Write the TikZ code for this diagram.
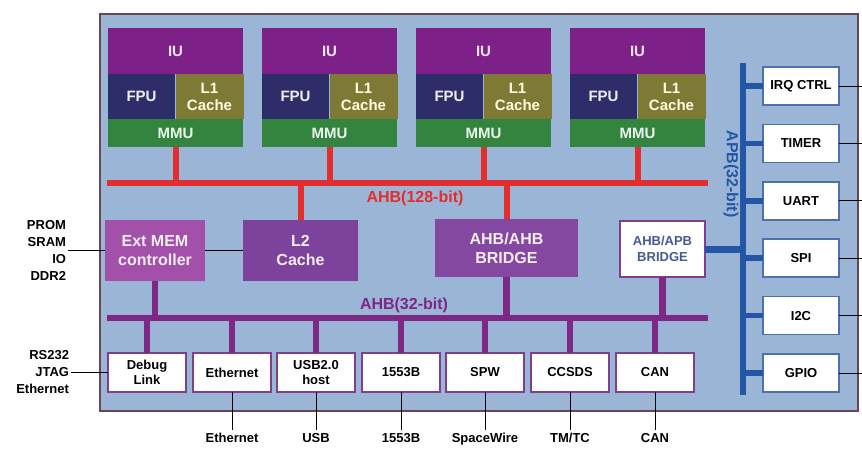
\documentclass[tikz,border=0pt]{standalone}
\usepackage{fontspec}
\setmainfont{Liberation Sans}
\usepackage{tikz}
\usetikzlibrary{calc}
\definecolor{boardc}{RGB}{155,181,215}
\definecolor{boardln}{RGB}{105,70,85}
\definecolor{iuc}{RGB}{125,32,135}
\definecolor{fpuc}{RGB}{45,46,105}
\definecolor{lonec}{RGB}{126,121,52}
\definecolor{mmuc}{RGB}{50,132,62}
\definecolor{extc}{RGB}{163,80,170}
\definecolor{ltwoc}{RGB}{125,66,155}
\definecolor{bridgec}{RGB}{132,72,160}
\definecolor{hbred}{RGB}{226,46,46}
\definecolor{lbpurp}{RGB}{125,40,132}
\definecolor{apbblue}{RGB}{36,86,166}
\definecolor{ioedge}{RGB}{128,62,142}
\definecolor{pedge}{RGB}{78,112,172}
\definecolor{apbtxt}{RGB}{70,90,152}
\tikzset{
  blk/.style={inner sep=0pt,outer sep=0pt,align=center,font=\fontsize{15}{17}\selectfont\bfseries},
  iublk/.style={blk,fill=iuc,text=white!88!iuc,minimum width=135pt,minimum height=46pt},
  fpublk/.style={blk,fill=fpuc,text=white!92!fpuc,minimum width=67pt,minimum height=45pt},
  loneblk/.style={blk,fill=lonec,text=yellow!12!white,minimum width=68pt,minimum height=45pt},
  mmublk/.style={blk,fill=mmuc,text=white!90!mmuc,minimum width=135pt,minimum height=28pt},
  bigblk/.style={blk,text=white!92!iuc,font=\fontsize{16}{19}\selectfont\bfseries},
  iobox/.style={blk,draw=ioedge,line width=1.5pt,fill=white,minimum width=78pt,minimum height=39pt,
    font=\fontsize{13}{15}\selectfont\bfseries},
  pbox/.style={blk,draw=pedge,line width=1.5pt,fill=white,minimum width=76pt,minimum height=38pt,
    font=\fontsize{13}{15}\selectfont\bfseries},
  extlbl/.style={inner sep=2pt,outer sep=0pt,align=right,font=\fontsize{13}{17}\selectfont\bfseries},
  buslbl/.style={inner sep=0pt,font=\fontsize{16}{18}\selectfont\bfseries},
  hbus/.style={hbred,line width=6pt},
  lbus/.style={lbpurp,line width=6.5pt},
  pbus/.style={apbblue,line width=5.5pt},
  wire/.style={black,line width=0.8pt},
}

\begin{document}
\begin{tikzpicture}[x=1pt,y=-1pt]
  \useasboundingbox (0,0) rectangle (862,461);
  \draw[fill=boardc,draw=boardln,line width=1.2pt] (100,14) rectangle (858,411);
  \coordinate (hbL) at (107,183);
  \coordinate (hbR) at (708,183);
  \coordinate (lbL) at (107,318);
  \coordinate (lbR) at (708,318);
  \coordinate (apbT) at (743,63);
  \coordinate (apbB) at (743,395);
  \foreach \k/\x in {1/108,2/262,3/416,4/570}{
     \node[iublk] (iu\k) at (\x+67.5,51) {IU};
     \node[fpublk] (fpu\k) at (\x+33.5,96.5) {FPU};
     \node[loneblk] (lone\k) at (\x+101.5,96.5) {L1\\Cache};
     \node[mmublk] (mmu\k) at (\x+67.5,133) {MMU};
     \draw[hbus] (mmu\k.south) -- (mmu\k.south |- hbL);}
  \draw[hbus] (hbL) -- (hbR);
  \node[buslbl,text=hbred] (hblbl) at (415,198) {AHB(128-bit)};
  \node[bigblk,fill=extc,minimum width=100pt,minimum height=61pt] (extmem) at (155,250.5) {Ext MEM\\controller};
  \node[bigblk,fill=ltwoc,minimum width=115pt,minimum height=61pt] (ltwo) at (300.5,250.5) {L2\\Cache};
  \node[bigblk,fill=bridgec,minimum width=143pt,minimum height=58pt] (ahbbr) at (506.5,248) {AHB/AHB\\BRIDGE};
  \node[blk,draw=ioedge,line width=1.5pt,fill=white,text=apbtxt,minimum width=85pt,minimum height=56pt,
     font=\fontsize{13}{16}\selectfont\bfseries] (apbbr) at (662.5,249) {AHB/APB\\BRIDGE};
  \draw[hbus] (ltwo.north) -- (ltwo.north |- hbL);
  \draw[hbus] (ahbbr.north) -- (ahbbr.north |- hbL);
  \draw[wire] (extmem.east) -- (ltwo.west);
  \node[extlbl,anchor=east] (memlbl) at (68,250.5) {PROM\\SRAM\\IO\\DDR2};
  \draw[wire] (memlbl.east) -- (extmem.west);
  \draw[lbus] (lbL) -- (lbR);
  \node[buslbl,text=lbpurp] (lblbl) at (404,305) {AHB(32-bit)};
  \draw[lbus] (extmem.south) -- (extmem.south |- lbL);
  \draw[lbus] (ahbbr.south) -- (ahbbr.south |- lbL);
  \draw[lbus] (apbbr.south) -- (apbbr.south |- lbL);
  \foreach \n/\x/\txt in {dbg/147/{Debug\\Link},eth/232/Ethernet,usb/316/{USB2.0\\host},
      mil/401/1553B,spw/485/SPW,ccsds/570/CCSDS,can/655/CAN}{
     \node[iobox] (\n) at (\x,372.5) {\txt};
     \draw[lbus] (\n.north) -- (\n.north |- lbL);}
  \foreach \n/\txt in {eth/Ethernet,usb/USB,mil/1553B,spw/SpaceWire,ccsds/{TM/TC},can/CAN}{
     \node[extlbl,inner sep=0pt,anchor=north] (\n x) at ($(\n.south)+(0,41)$) {\txt};
     \draw[wire] (\n.south) -- ++(0,38);}
  \node[extlbl,anchor=east] (dbglbl) at (71,372.5) {RS232\\JTAG\\Ethernet};
  \draw[wire] (dbglbl.east) -- (dbg.west);
  \draw[pbus] (apbT) -- (apbB);
  \node[buslbl,text=apbblue,rotate=-90] (apblbl) at (731,174) {APB(32-bit)};
  \draw[apbblue,line width=7pt] (apbbr.east) -- (apbbr.east -| apbT);
  \foreach \n/\y/\txt in {irq/86/IRQ CTRL,tmr/143.4/TIMER,uart/200.8/UART,spi/258.2/SPI,
      iic/315.6/I2C,gpio/373/GPIO}{
     \node[pbox] (\n) at (801,\y) {\txt};
     \coordinate (\n o) at (862,\y);
     \draw[pbus] (\n.west -| apbT) -- (\n.west);
     \draw[wire] (\n.east) -- (\n o);}
\end{tikzpicture}
\end{document}
